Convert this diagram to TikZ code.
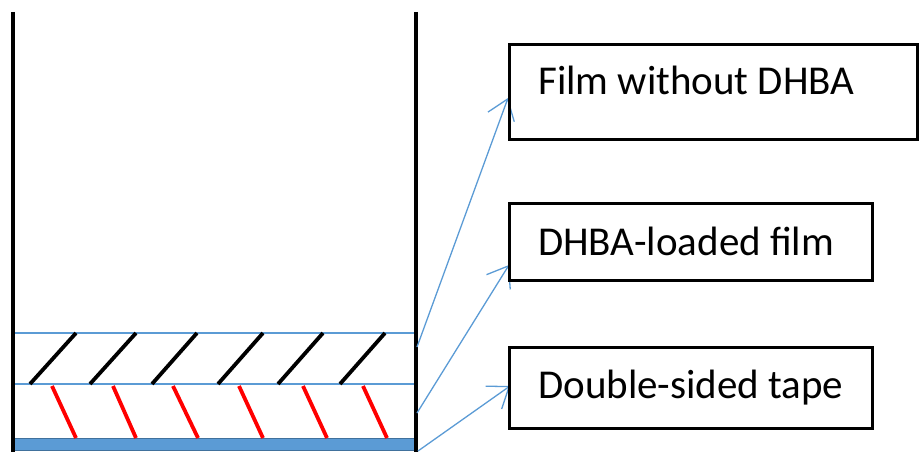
\documentclass[tikz,border=0pt]{standalone}
\usepackage{fontspec}
\setmainfont{Carlito}
\usetikzlibrary{arrows.meta}
\definecolor{layerblue}{HTML}{5B9BD5}
\definecolor{tapeedge}{HTML}{41719C}
\tikzset{
  wall/.style={draw=black, line width=3.2pt},
  layerline/.style={draw=layerblue, line width=1.3pt},
  blackhatch/.style={draw=black, line width=3.8pt},
  redhatch/.style={draw=red, line width=3.8pt},
  labelbox/.style={draw=black, line width=3.2pt, rectangle, inner sep=0pt, anchor=north west},
  labeltext/.style={anchor=base west, inner sep=0pt, font=\fontsize{41}{48}\selectfont},
  pointer/.style={draw=layerblue, line width=1.3pt, -{Straight Barb[length=19pt, width=28pt, line width=1.3pt]}}
}
\begin{document}
\begin{tikzpicture}[x=1pt, y=-1pt]
\useasboundingbox (0,0) rectangle (919,452);

% tape strip at the bottom of the container
\fill[layerblue, draw=tapeedge, line width=1pt] (14,438) rectangle (416,450);

% layer boundaries
\draw[layerline] (13,333) -- (416,333);
\draw[layerline] (13,384) -- (416,384);

% hatching of the upper film (black) and the loaded film (red)
\foreach \a/\b in {30/76, 90/136, 152/197, 218/263, 278/323, 340/385}
  \draw[blackhatch] (\a,384) -- (\b,333);
\foreach \a/\b in {52/76, 113/136, 173/198, 239/263, 303/327, 363/387}
  \draw[redhatch] (\a,386) -- (\b,438);

% container walls
\draw[wall] (13,12) -- (13,452);
\draw[wall] (416,12) -- (416,452);

% pointer start points on the right wall
\coordinate (s1) at (417,347);
\coordinate (s2) at (417,413);
\coordinate (s3) at (418,451);
\coordinate (e1) at (508,98);
\coordinate (e2) at (509,265);
\coordinate (e3) at (510,386);

\draw[pointer] (s1) -- (e1);
\draw[pointer] (s2) -- (e2);
\draw[pointer] (s3) -- (e3);

% label boxes
\node[labelbox, minimum width=408pt, minimum height=95pt] (b1) at (508,43) {};
\node[labelbox, minimum width=363pt, minimum height=77pt] (b2) at (508,202) {};
\node[labelbox, minimum width=363pt, minimum height=81pt] (b3) at (508,346) {};

\node[labeltext] (t1) at (538,95) {Film without DHBA};
\node[labeltext] (t2) at (538,255) {DHBA-loaded film};
\node[labeltext] (t3) at (538,398) {Double-sided tape};
\end{tikzpicture}
\end{document}
